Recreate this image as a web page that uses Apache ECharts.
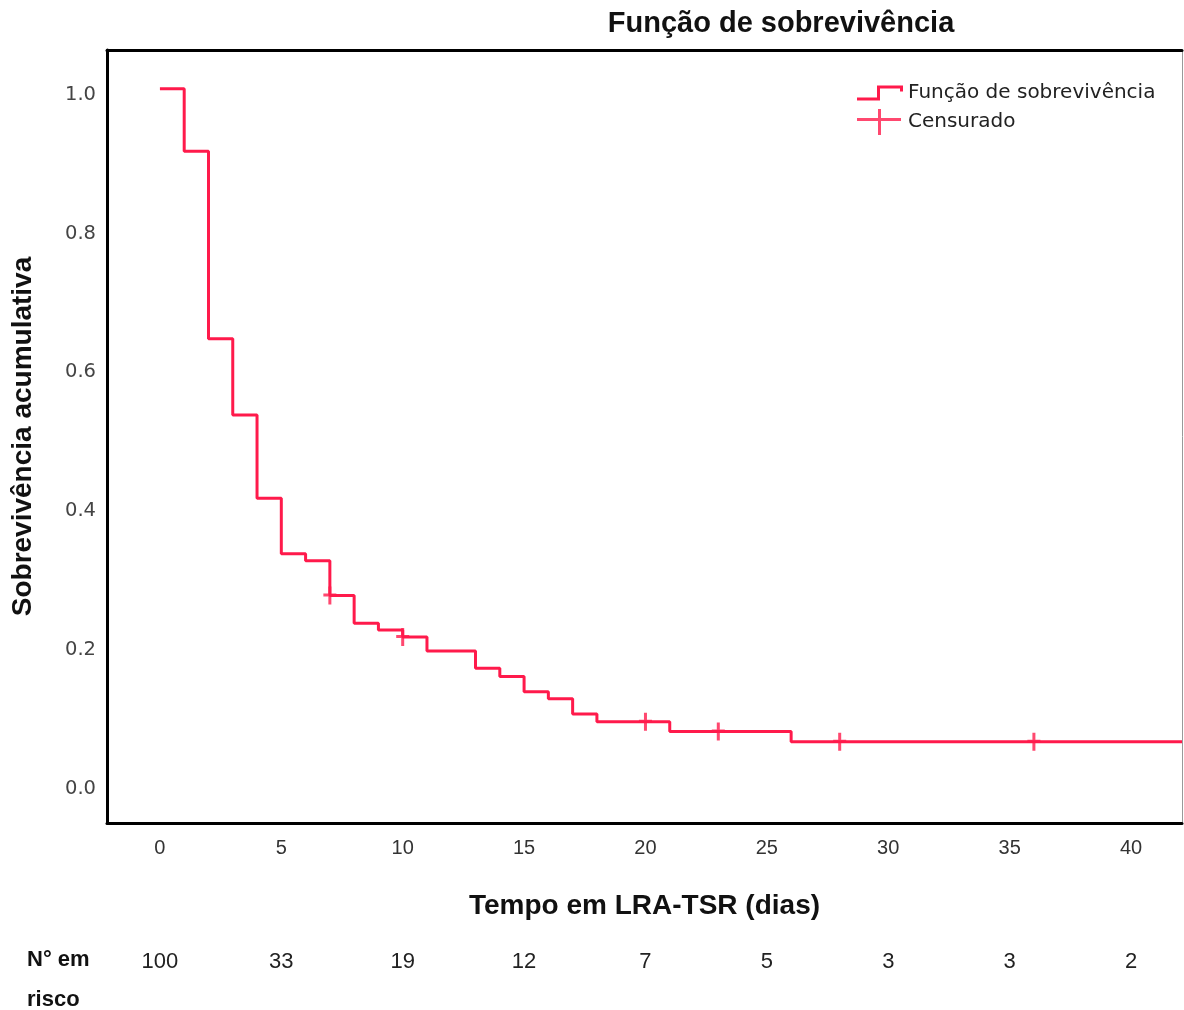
<!DOCTYPE html>
<html>
<head>
<meta charset="utf-8">
<script src="https://cdn.jsdelivr.net/npm/echarts@6/dist/echarts.min.js"></script>
<style>
html,body{margin:0;padding:0;background:#fff;}
#chart{width:1184px;height:1010px;}
</style>
</head>
<body>
<div id="chart"></div>
<script>
// ---- data ----
const xTicks = [0, 5, 10, 15, 20, 25, 30, 35, 40];
const yTicks = [0, 0.2, 0.4, 0.6, 0.8, 1.0];
const survTimes  = [0, 1, 2, 3, 4, 5, 6, 7, 8, 9, 10, 11, 13, 14, 15, 16, 17, 18, 21, 26, 42.1];
const survValues = [1.0, 0.91, 0.64, 0.53, 0.41, 0.33, 0.32, 0.27, 0.23, 0.22, 0.21, 0.19, 0.165, 0.153, 0.131, 0.121, 0.099, 0.088, 0.074, 0.059, 0.059];
const censorTimes  = [7, 10, 20, 23, 28, 36];
const censorValues = [0.27, 0.21, 0.088, 0.074, 0.059, 0.059];
const riskCounts = [100, 33, 19, 12, 7, 5, 3, 3, 2];

const RED = '#ff1a4b';
const survData = survTimes.map((t, i) => [t, survValues[i]]);
const censorData = censorTimes.map((t, i) => [t, censorValues[i]]);

const stepIcon = 'path://M0,12H23V15H0Z M20,0H23V15H20Z M20,0H46V3H20Z M43,0H46V6H43Z';
const plusIcon = 'path://M0,9H44V12H0Z M21,0H24V26H21Z';
const censorSymbol = 'path://M0,7H13V10H0Z M5,0H8V18H5Z';

const XMIN = -2.18, XMAX = 42.1, YMIN = -0.058, YMAX = 1.056;
const nameFont = {fontFamily: 'Liberation Sans', fontWeight: 'bold', fontSize: 28, color: '#111'};

const chart = echarts.init(document.getElementById('chart'), null, {renderer: 'canvas'});
chart.setOption({
  backgroundColor: '#fff',
  animation: false,
  title: {
    text: 'Função de sobrevivência',
    left: 776, top: 4, textAlign: 'center',
    textStyle: {fontFamily: 'Liberation Sans', fontWeight: 'bold', fontSize: 29, color: '#111'}
  },
  legend: [
    {
      data: [{name: 'Função de sobrevivência', icon: stepIcon}],
      left: 852, top: 78, itemWidth: 46, itemHeight: 15, itemGap: 4,
      textStyle: {fontFamily: 'DejaVu Sans', fontSize: 20, color: '#222', padding: [6, 0, 0, 0]},
      selectedMode: false
    },
    {
      data: [{name: 'Censurado', icon: plusIcon}],
      left: 852, top: 104, itemWidth: 44, itemHeight: 26, itemGap: 4,
      textStyle: {fontFamily: 'DejaVu Sans', fontSize: 20, color: '#222', padding: [6, 0, 0, 2]},
      selectedMode: false
    }
  ],
  grid: {
    left: 107, right: 2, top: 50, bottom: 187,
    show: false, outerBoundsMode: 'none', containLabel: false
  },
  xAxis: [
    {
      type: 'value', min: XMIN, max: XMAX,
      splitLine: {show: false}, axisTick: {show: false},
      axisLine: {show: true, onZero: false, lineStyle: {color: '#000', width: 3}},
      axisLabel: {
        customValues: xTicks, margin: 15,
        fontFamily: 'Liberation Sans', fontSize: 20, color: '#333'
      },
      name: 'Tempo em LRA-TSR (dias)', nameLocation: 'middle', nameGap: 69,
      nameTextStyle: nameFont
    },
    {
      type: 'value', min: XMIN, max: XMAX, position: 'bottom', offset: 126,
      splitLine: {show: false}, axisTick: {show: false}, axisLine: {show: false},
      axisLabel: {
        customValues: xTicks, margin: 2,
        fontFamily: 'Liberation Sans', fontSize: 22, color: '#222',
        formatter: function (v) { const i = xTicks.indexOf(v); return i >= 0 ? String(riskCounts[i]) : ''; }
      }
    },
    {
      type: 'value', min: XMIN, max: XMAX, position: 'top',
      splitLine: {show: false}, axisTick: {show: false}, axisLabel: {show: false},
      axisLine: {show: true, onZero: false, lineStyle: {color: '#000', width: 3}}
    }
  ],
  yAxis: [
    {
      type: 'value', min: YMIN, max: YMAX,
      splitLine: {show: false}, axisTick: {show: false},
      axisLine: {show: true, onZero: false, lineStyle: {color: '#000', width: 3}},
      axisLabel: {
        customValues: yTicks, margin: 11,
        formatter: v => '{a|' + v.toFixed(1) + '}',
        rich: {
          a: {fontFamily: 'DejaVu Sans', fontSize: 19.5, color: '#444', padding: [12, 0, 0, 0]}
        }
      },
      name: 'Sobrevivência acumulativa', nameLocation: 'middle', nameGap: 70, nameRotate: 90,
      nameTextStyle: nameFont
    },
    {
      type: 'value', min: YMIN, max: YMAX, position: 'right',
      splitLine: {show: false}, axisTick: {show: false}, axisLabel: {show: false},
      axisLine: {show: true, onZero: false, lineStyle: {color: '#999', width: 1}}
    }
  ],
  graphic: [
    {type: 'text', left: 27, top: 949, style: {text: 'N° em', fontFamily: 'Liberation Sans', fontWeight: 'bold', fontSize: 22, fill: '#111'}},
    {type: 'text', left: 27, top: 989, style: {text: 'risco', fontFamily: 'Liberation Sans', fontWeight: 'bold', fontSize: 22, fill: '#111'}}
  ],
  series: [
    {
      name: 'Função de sobrevivência', type: 'line', step: 'end',
      data: survData, symbol: 'none', clip: true,
      lineStyle: {color: RED, width: 3}, itemStyle: {color: RED}
    },
    {
      name: 'Censurado', type: 'scatter', data: censorData,
      symbol: censorSymbol, symbolSize: [13, 18],
      itemStyle: {color: RED}, z: 3
    }
  ]
});
</script>
</body>
</html>
